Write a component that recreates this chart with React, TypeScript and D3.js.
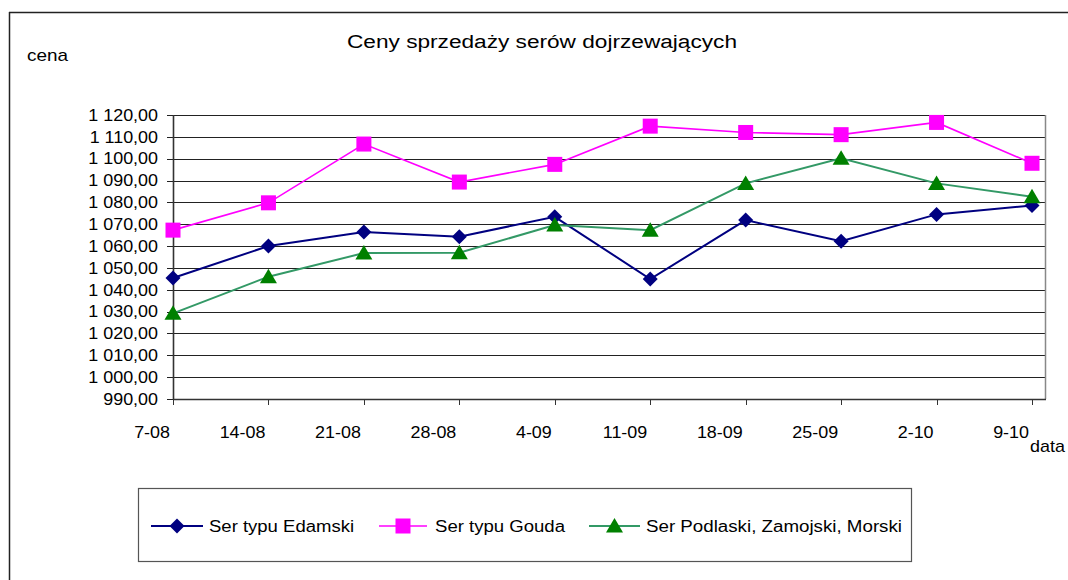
import React from 'react';
import * as d3 from 'd3';

const DATES = ['7-08', '14-08', '21-08', '28-08', '4-09', '11-09', '18-09', '25-09', '2-10', '9-10'];
const EDAMSKI = [1045.4, 1060.0, 1066.4, 1064.3, 1073.4, 1044.9, 1071.9, 1062.2, 1074.5, 1078.6];
const GOUDA = [1067.3, 1079.8, 1106.7, 1089.3, 1097.4, 1114.9, 1112.0, 1111.0, 1116.6, 1097.9];
const PODLASKI = [1029.2, 1046.0, 1056.8, 1057.0, 1069.6, 1067.3, 1088.7, 1100.2, 1088.7, 1082.6];
const Y_TICKS = d3.range(990, 1121, 10);

const SERIES = [
  { name: 'Ser typu Edamski', values: EDAMSKI, line: '#000080', fill: '#000080', width: 2, marker: 'diamond' },
  { name: 'Ser typu Gouda', values: GOUDA, line: '#ff00ff', fill: '#ff00ff', width: 1.6, marker: 'square' },
  { name: 'Ser Podlaski, Zamojski, Morski', values: PODLASKI, line: '#339966', fill: '#008000', width: 2, marker: 'triangle' },
];

const width = 1068;
const height = 580;
const plotLeft = 173;
const plotRight = 1046;
const plotTop = 115;
const plotBottom = 399;
const font = '"Liberation Sans", Arial, sans-serif';
const stretch = 1.12;

const x = d3.scalePoint().domain(DATES).range([plotLeft, 1032]);
const y = d3.scaleLinear().domain([990, 1120]).range([plotBottom, plotTop]);

const fmt = d3.formatLocale({ decimal: ',', thousands: ' ', grouping: [3], currency: ['', ''] }).format(',.2f');

function Marker({ type, cx, cy, fill }: { type: string; cx: number; cy: number; fill: string }) {
  if (type === 'diamond') {
    const r = 7.5;
    return <path d={`M${cx},${cy - r}L${cx + r},${cy}L${cx},${cy + r}L${cx - r},${cy}Z`} fill={fill} />;
  }
  if (type === 'square') {
    return <rect x={cx - 7.5} y={cy - 7.5} width={15} height={15} fill={fill} />;
  }
  return <path d={`M${cx},${cy - 8}L${cx + 8.5},${cy + 6.5}L${cx - 8.5},${cy + 6.5}Z`} fill={fill} />;
}

const legendItems = [
  { x0: 151, x1: 203, tx: 209, len: 145 },
  { x0: 379, x1: 427, tx: 435, len: 130 },
  { x0: 589, x1: 640, tx: 646, len: 256 },
];

export default function App() {
  const line = d3.line<number>().x((_, i) => x(DATES[i]) as number).y(d => y(d));
  return (
    <svg width={width} height={height} style={{ position: 'absolute', left: 0, top: 0, background: '#fff' }} fontFamily={font}>
      <rect x={0} y={0} width={width} height={height} fill="#fff" />
      <line x1={9.5} y1={12} x2={9.5} y2={height} stroke="#222" strokeWidth={1.5} />
      <line x1={9} y1={12.5} x2={width} y2={12.5} stroke="#222" strokeWidth={1.5} />

      <text x={347} y={48} fontSize={18} textLength={390} lengthAdjust="spacingAndGlyphs">Ceny sprzedaży serów dojrzewających</text>
      <text x={27} y={61} fontSize={17} textLength={41} lengthAdjust="spacingAndGlyphs">cena</text>

      {Y_TICKS.map(t => (
        <g key={t}>
          <line x1={plotLeft - 6} x2={plotRight} y1={Math.round(y(t)) + 0.5} y2={Math.round(y(t)) + 0.5} stroke="#222" strokeWidth={1} />
          <text transform={`translate(${plotLeft - 15},${y(t)}) scale(${stretch},1)`} dy="0.36em" textAnchor="end" fontSize={16}>{fmt(t)}</text>
        </g>
      ))}
      <line x1={plotRight - 0.5} x2={plotRight - 0.5} y1={plotTop} y2={plotBottom} stroke="#888" strokeWidth={1.5} />
      <line x1={plotLeft + 0.5} x2={plotLeft + 0.5} y1={plotTop} y2={plotBottom + 1} stroke="#333" strokeWidth={1.6} />
      <line x1={plotLeft} x2={plotRight} y1={plotBottom + 0.5} y2={plotBottom + 0.5} stroke="#333" strokeWidth={1.6} />

      {DATES.map(d => (
        <g key={d}>
          <line x1={Math.round(x(d) as number) + 0.5} x2={Math.round(x(d) as number) + 0.5} y1={plotBottom} y2={plotBottom + 6} stroke="#333" />
          <text transform={`translate(${(x(d) as number) - 3},438) scale(${stretch},1)`} textAnchor="end" fontSize={16}>{d}</text>
        </g>
      ))}
      <text transform={`translate(1030,452) scale(${stretch},1)`} fontSize={16}>data</text>

      {SERIES.map(s => (
        <g key={s.name}>
          <path d={line(s.values) || ''} fill="none" stroke={s.line} strokeWidth={s.width} />
          {s.values.map((v, i) => (
            <Marker key={i} type={s.marker} cx={x(DATES[i]) as number} cy={y(v)} fill={s.fill} />
          ))}
        </g>
      ))}

      <rect x={138.5} y={488.5} width={773} height={73} fill="#fff" stroke="#555" strokeWidth={1.2} />
      {SERIES.map((s, i) => {
        const it = legendItems[i];
        const cy = 526;
        return (
          <g key={s.name}>
            <line x1={it.x0} x2={it.x1} y1={cy} y2={cy} stroke={s.line} strokeWidth={s.width} />
            <Marker type={s.marker} cx={(it.x0 + it.x1) / 2} cy={cy} fill={s.fill} />
            <text x={it.tx} y={cy} dy="0.36em" fontSize={16} textLength={it.len} lengthAdjust="spacingAndGlyphs">{s.name}</text>
          </g>
        );
      })}
    </svg>
  );
}
